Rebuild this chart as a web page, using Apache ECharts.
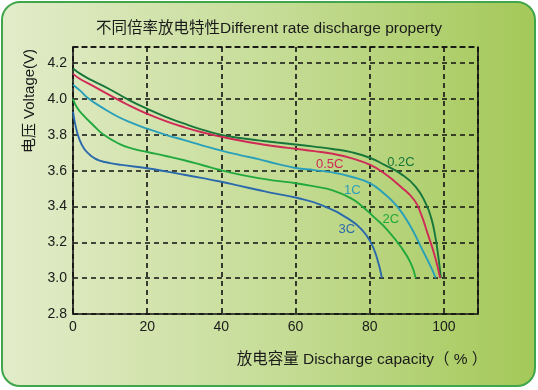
<!DOCTYPE html>
<html>
<head>
<meta charset="utf-8">
<script src="https://cdn.jsdelivr.net/npm/echarts@6/dist/echarts.min.js"></script>
<style>
html,body{margin:0;padding:0;background:#fff;}
#c{width:538px;height:390px;}
</style>
</head>
<body>
<div id="c"></div>
<script>
// ---- data ----
const seriesNames = ['0.2C', '0.5C', '1C', '2C', '3C'];
const curve02C = [[0,4.17],[2,4.14],[5,4.105],[10,4.053],[15,3.995],[20,3.945],[25,3.90],[30,3.862],[35,3.828],[40,3.80],[45,3.782],[50,3.769],[55,3.757],[60,3.746],[65,3.734],[70,3.721],[75,3.703],[80,3.672],[84,3.632],[88.4,3.582],[92.4,3.51],[95.1,3.417],[96.6,3.335],[97.7,3.23],[98.5,3.12],[99.2,3.0]];
const curve05C = [[0,4.14],[2,4.11],[5,4.077],[10,4.02],[15,3.965],[20,3.917],[25,3.876],[30,3.842],[35,3.813],[40,3.789],[45,3.768],[50,3.75],[55,3.735],[60,3.722],[65,3.709],[70,3.694],[75,3.67],[80,3.633],[84,3.584],[88.4,3.51],[92,3.436],[93.8,3.36],[95.6,3.25],[97.6,3.12],[99,3.0]];
const curve1C = [[0,4.08],[2,4.045],[4,4.005],[8,3.95],[12,3.902],[16,3.865],[20,3.834],[25,3.80],[30,3.77],[35,3.74],[40,3.712],[45,3.687],[50,3.664],[55,3.638],[60,3.615],[65,3.603],[70,3.59],[75,3.566],[80,3.53],[84,3.47],[87.5,3.398],[91.1,3.286],[93.8,3.175],[96.5,3.063],[97.8,3.0]];
const curve2C = [[0,4.0],[1,3.955],[2.5,3.915],[5.4,3.855],[8.1,3.803],[12.6,3.748],[16,3.723],[20,3.704],[25,3.682],[30,3.658],[35,3.63],[40,3.602],[45,3.578],[50,3.558],[55,3.543],[60,3.53],[65,3.512],[70,3.49],[75,3.445],[78,3.40],[81.1,3.342],[84.8,3.268],[88.4,3.175],[91.1,3.082],[92.4,3.0]];
const curve3C = [[0,3.93],[0.8,3.84],[1.8,3.77],[3,3.722],[4.2,3.695],[5.6,3.672],[7.2,3.656],[10,3.642],[13,3.632],[20,3.613],[25,3.596],[30,3.577],[35,3.558],[40,3.538],[45,3.515],[50,3.492],[55,3.47],[60,3.45],[67,3.408],[74.8,3.324],[78,3.268],[80.3,3.2],[82,3.11],[83.3,3.0]];
const seriesColors = ['#17773a', '#cf2a55', '#2a9fba', '#22a93e', '#2b69ad'];
const labelX = [88.4, 69.2, 75.3, 85.7, 73.8];
const labelY = [3.646, 3.637, 3.49, 3.33, 3.27];
const xTicks = [0, 20, 40, 60, 80, 100];
const yTicks = [2.8, 3.0, 3.2, 3.4, 3.6, 3.8, 4.0, 4.2];
const curves = [curve02C, curve05C, curve1C, curve2C, curve3C];

// ---- chart ----
const chart = echarts.init(document.getElementById('c'), null, {renderer: 'canvas'});
const font = '"Liberation Sans", "Noto Sans CJK SC", sans-serif';
const dashStyle = {color: '#111', width: 1.6, type: [5, 4]};

const series = curves.map((d, i) => ({
  name: seriesNames[i],
  type: 'line',
  data: d,
  smooth: 0.5,
  showSymbol: false,
  lineStyle: {color: seriesColors[i], width: 1.9},
  itemStyle: {color: seriesColors[i]},
  z: 5,
  markPoint: {
    symbol: 'circle',
    symbolSize: 0,
    data: [{coord: [labelX[i], labelY[i]], value: seriesNames[i]}],
    label: {show: true, position: 'inside', formatter: seriesNames[i], color: seriesColors[i], fontSize: 13, fontFamily: font}
  }
}));

chart.setOption({
  animation: false,
  backgroundColor: '#ffffff',
  graphic: [
    {
      type: 'rect', z: -10, silent: true,
      shape: {x: 2, y: 2, width: 533, height: 384, r: 18},
      style: {
        fill: new echarts.graphic.LinearGradient(0, 0, 1, 0, [
          {offset: 0, color: '#e3ecca'},
          {offset: 0.5, color: '#c6dd98'},
          {offset: 1, color: '#a4c858'}
        ]),
        stroke: '#3fa64c', lineWidth: 2
      }
    },
    {
      type: 'text', z: 10, x: 30, y: 101, rotation: Math.PI / 2,
      style: {text: '电压 Voltage(V)', x: 0, y: 0, textAlign: 'center', textVerticalAlign: 'middle', fill: '#1a1a1a', font: '15px ' + font}
    },
    {
      type: 'text', z: 10, x: 362, y: 360,
      style: {text: '放电容量 Discharge capacity（ % ）', x: 0, y: 0, textAlign: 'center', textVerticalAlign: 'middle', fill: '#1a1a1a', font: '15.5px ' + font}
    }
  ],
  title: {
    text: '不同倍率放电特性Different rate discharge property',
    left: 'center', top: 16,
    textStyle: {fontSize: 15.5, fontWeight: 'normal', color: '#1a1a1a', fontFamily: font}
  },
  grid: {left: 73, top: 47, right: 60, bottom: 76, containLabel: false},
  xAxis: [
    {
      type: 'value', min: 0, max: 109.2, interval: 20,
      axisLine: {show: true, onZero: false, lineStyle: {color: '#111', width: 1.6}},
      axisTick: {show: false},
      axisLabel: {fontSize: 14, color: '#1a1a1a', fontFamily: font, margin: 6, showMaxLabel: false,
        formatter: v => (xTicks.indexOf(v) >= 0 ? String(v) : '')},
      splitLine: {show: true, lineStyle: dashStyle}
    },
    {
      type: 'value', position: 'top', min: 0, max: 109.2,
      axisLine: {show: true, lineStyle: dashStyle},
      axisTick: {show: false}, axisLabel: {show: false}, splitLine: {show: false}
    }
  ],
  yAxis: [
    {
      type: 'value', min: 2.8, max: 4.29, interval: 0.2,
      axisLine: {show: true, onZero: false, lineStyle: {color: '#111', width: 1.6}},
      axisTick: {show: false},
      axisLabel: {fontSize: 14, color: '#1a1a1a', fontFamily: font, margin: 6, showMaxLabel: false,
        formatter: v => {
          const ok = yTicks.some(t => Math.abs(t - v) < 1e-6);
          return ok ? v.toFixed(1) : '';
        }},
      splitLine: {show: true, lineStyle: dashStyle}
    },
    {
      type: 'value', position: 'right', min: 2.8, max: 4.29,
      axisLine: {show: true, onZero: false, lineStyle: {color: '#111', width: 1.6}},
      axisTick: {show: false}, axisLabel: {show: false}, splitLine: {show: false}
    }
  ],
  series: series
});
</script>
</body>
</html>
